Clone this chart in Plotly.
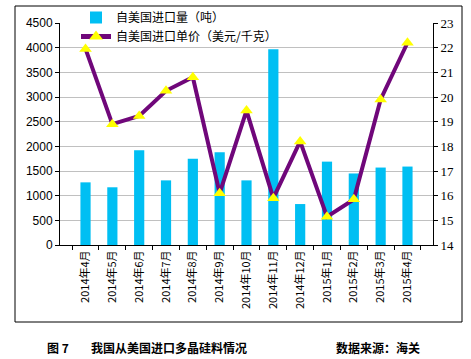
import plotly.graph_objects as go

categories = ["2014年4月", "2014年5月", "2014年6月", "2014年7月", "2014年8月", "2014年9月",
              "2014年10月", "2014年11月", "2014年12月", "2015年1月", "2015年2月", "2015年3月", "2015年4月"]
volume = [1270, 1170, 1920, 1310, 1750, 1880, 1310, 3970, 830, 1690, 1450, 1570, 1590]
price = [21.95, 18.9, 19.23, 20.25, 20.8, 16.1, 19.45, 15.9, 18.2, 15.15, 15.85, 19.9, 22.2]

W, H = 471, 359
L, R, T, B = 60, 433, 23, 245

def px2x(px):
    return (px - L) / (R - L)

def py2y(py):
    return (B - py) / (B - T)

fig = go.Figure()
fig.add_trace(go.Bar(x=categories, y=volume, name="自美国进口量（吨）",
                     marker=dict(color="#00BFF3", line=dict(width=0)), width=0.38))
fig.add_trace(go.Scatter(x=categories, y=price, name="自美国进口单价（美元/千克）", yaxis="y2",
                         mode="lines+markers",
                         line=dict(color="#70077A", width=4),
                         marker=dict(symbol="triangle-up", size=11, color="#FFFF00",
                                     line=dict(width=0))))

fig.update_layout(
    width=W, height=H,
    margin=dict(l=L, r=W - R, t=T, b=H - B, autoexpand=False),
    paper_bgcolor="white", plot_bgcolor="white",
    showlegend=True,
    legend=dict(x=px2x(76), y=py2y(3), xanchor="left", yanchor="top",
                bgcolor="rgba(0,0,0,0)", font=dict(family="Noto Sans CJK SC", size=12, color="black"),
                itemsizing="constant", tracegroupgap=0, traceorder="normal",
                itemwidth=30),
    bargap=0.62,
    xaxis=dict(type="category", tickangle=-90, showline=True, linecolor="black", linewidth=1,
               ticks="outside", ticklen=4, tickcolor="black", tickson="boundaries",
               tickfont=dict(family="Noto Sans CJK SC", size=11, color="black"),
               showgrid=False, automargin=False),
    yaxis=dict(range=[0, 4500], dtick=500, showline=True, linecolor="black", linewidth=1,
               ticks="outside", ticklen=4, tickcolor="black",
               showgrid=True, gridcolor="#C0C0C0", gridwidth=1, zeroline=False,
               automargin=False,
               tickfont=dict(family="Liberation Sans", size=12, color="black")),
    yaxis2=dict(range=[14, 23], dtick=1, overlaying="y", side="right", showline=True,
                linecolor="black", linewidth=1, ticks="outside", ticklen=4, tickcolor="black",
                showgrid=False, zeroline=False, automargin=False,
                tickfont=dict(family="Liberation Serif", size=13, color="black")),
    shapes=[
        dict(type="rect", xref="paper", yref="paper",
             x0=px2x(15), x1=px2x(462), y0=py2y(322), y1=py2y(6),
             line=dict(color="black", width=1), fillcolor="rgba(0,0,0,0)", layer="below"),
        dict(type="rect", xref="paper", yref="paper",
             x0=px2x(82), x1=px2x(282), y0=py2y(28), y1=py2y(18),
             line=dict(width=0), fillcolor="white", layer="between"),
    ],
    annotations=[
        dict(text="<b>图 7</b>", xref="paper", yref="paper", x=px2x(45), y=py2y(347),
             xanchor="left", yanchor="middle", showarrow=False,
             font=dict(family="Noto Sans CJK SC", size=12, color="black")),
        dict(text="<b>我国从美国进口多晶硅料情况</b>", xref="paper", yref="paper", x=px2x(89), y=py2y(347),
             xanchor="left", yanchor="middle", showarrow=False,
             font=dict(family="Noto Sans CJK SC", size=12, color="black")),
        dict(text="<b>数据来源：海关</b>", xref="paper", yref="paper", x=px2x(334), y=py2y(347),
             xanchor="left", yanchor="middle", showarrow=False,
             font=dict(family="Noto Sans CJK SC", size=12, color="black")),
    ],
)

fig.write_html("out.html", config={"displayModeBar": False},
               post_script="document.body.style.margin='0';document.body.style.overflow='hidden';")
